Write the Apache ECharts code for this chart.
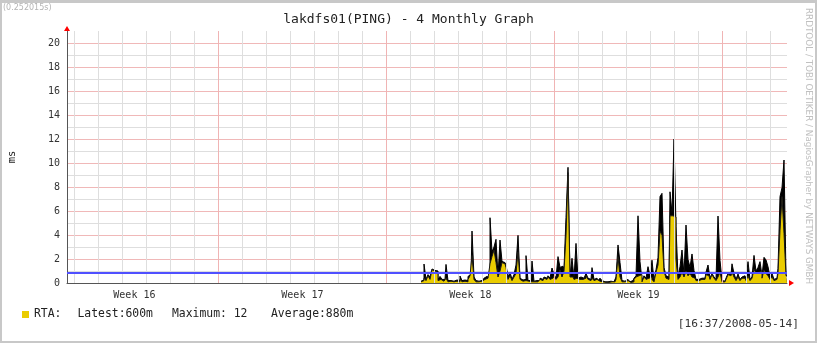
<!DOCTYPE html>
<html><head><meta charset="utf-8">
<script src="https://cdn.jsdelivr.net/npm/echarts@6/dist/echarts.min.js"></script>
<style>html,body{margin:0;padding:0;background:#fff}#c{width:817px;height:343px}</style>
</head><body><div id="c"></div>
<script>
// ---- data ----
const titleText = 'lakdfs01(PING) - 4 Monthly Graph';
const elapsedText = '(0.252015s)';
const stampText = '[16:37/2008-05-14]';
const watermarkText = 'RRDTOOL / TOBI OETIKER / NagiosGrapher by NETWAYS GMBH';
const unitName = 'ms';
const seriesName = 'RTA';
// x axis: hours since 2008-04-14 16:37 (30 days shown)
const xMinHour = 0, xMaxHour = 720;
const weekLabels = ['Week 16', 'Week 17', 'Week 18', 'Week 19'];
const weekLabelHours = [67.4, 235.4, 403.4, 571.4];
const dayLineHours = [7.5,31.5,55.5,79.5,103.5,127.5,175.5,199.5,223.5,247.5,271.5,295.5,343.5,367.5,391.5,415.5,439.5,463.5,511.5,535.5,559.5,583.5,607.5,631.5,679.5,703.5];
const weekLineHours = [151.5, 319.5, 487.5, 655.5];
const yTickValues = [0,2,4,6,8,10,12,14,16,18,20];
// samples every 2 hours starting at hour 354
const sampleStartHour = 354, sampleStepHours = 2;
const rtaAvg = [
 0.1,0.2,0.4,0.2,0.6,0.3,1.1,1.0,0.9,0.2,
 0.3,0.15,0.2,0.4,0.1,0.15,0.1,0.1,0.15,0.1,
 0.3,0.1,0.15,0.1,0.3,0.6,2.3,0.3,0.1,0.1,
 0.15,0.2,0.3,0.4,0.3,1.6,2.2,2.75,1.7,0.5,
 1.0,1.7,1.6,1.3,0.3,0.6,0.2,0.5,0.8,2.6,
 0.3,0.15,0.2,0.3,0.15,0.1,0.2,0.1,0.1,0.15,
 0.3,0.2,0.4,0.3,0.5,0.3,0.4,0.6,0.3,0.5,
 1.1,0.5,1.0,4.0,9.2,0.5,0.5,0.3,0.4,0.3,
 0.4,0.3,0.4,0.6,0.3,0.2,0.4,0.2,0.3,0.15,
 0.3,0.1,0.05,0.05,0.05,0.1,0.05,0.1,0.3,2.2,
 0.5,0.1,0.1,0.2,0.1,0.05,0.1,0.3,0.5,0.6,
 0.7,0.1,0.5,0.3,0.4,0.5,0.3,0.1,0.9,1.5,
 4.3,4.0,1.0,0.4,0.3,5.6,5.6,5.5,2.0,0.3,
 0.5,0.9,0.5,1.0,0.6,0.8,0.5,0.4,0.2,0.2,
 0.3,0.2,0.3,0.7,0.6,0.3,0.7,0.4,0.2,0.5,
 0.9,0.1,0.1,0.3,0.7,0.6,0.9,0.5,0.2,0.5,
 0.2,0.4,0.4,0.2,0.6,0.2,0.4,1.14,0.8,0.9,
 1.0,0.4,1.1,0.8,0.6,0.3,0.5,0.2,0.3,0.8,
 4.4,7.2,4.14,0.6
];
const rtaMax = [
 0.15,0.25,1.58,0.3,0.7,0.5,1.17,1.05,1.0,0.3,
 0.55,0.3,0.3,1.55,0.2,0.2,0.15,0.2,0.25,0.2,
 0.58,0.2,0.25,0.2,0.55,0.7,4.33,0.5,0.2,0.15,
 0.2,0.3,0.4,0.55,0.4,5.44,2.6,3.0,3.64,0.6,
 3.58,1.8,1.7,1.5,0.5,0.9,0.3,0.7,1.5,3.97,
 0.4,0.25,0.3,2.28,0.2,0.2,1.83,0.15,0.2,0.2,
 0.4,0.3,0.5,0.4,0.6,0.4,1.25,0.7,0.4,2.2,
 1.3,1.4,1.2,5.47,9.64,0.6,2.06,0.4,3.3,0.4,
 0.5,0.4,0.5,0.8,0.4,0.3,1.28,0.3,0.4,0.2,
 0.4,0.2,0.1,0.1,0.1,0.15,0.1,0.15,0.5,3.17,
 1.7,0.2,0.15,0.3,0.2,0.1,0.2,0.4,0.6,5.6,
 1.78,0.2,0.6,0.4,1.36,0.6,1.9,0.2,1.1,2.1,
 7.2,7.47,1.3,0.6,0.5,7.6,5.8,12.0,4.7,0.5,
 1.36,2.75,0.7,4.83,1.97,1.3,2.42,1.04,0.3,0.3,
 0.4,0.3,0.4,0.9,1.5,0.4,0.8,0.5,0.3,5.58,
 1.89,0.2,0.15,0.4,0.8,0.7,1.6,0.8,0.3,0.75,
 0.3,0.5,0.6,0.3,1.78,0.3,0.5,2.3,1.0,1.3,
 1.78,0.6,2.14,1.92,1.36,0.5,0.8,0.3,0.4,1.2,
 7.2,7.94,10.25,0.6
];
const rtaLatest = 0.6, rtaMaximum = 12, rtaAverage = 0.88;

// ---- build ----
const mono = 'DejaVu Sans Mono';
const hourOf = i => sampleStartHour + i * sampleStepHours;
const avgData = rtaAvg.map((v, i) => [hourOf(i), v]);
const maxData = rtaMax.map((v, i) => [hourOf(i), v]);
const si = v => v < 1 ? Math.round(v * 1000) + 'm' : String(v);

const chart = echarts.init(document.getElementById('c'), null, {renderer: 'canvas'});
const gridLineSeries = (hours, color) => ({
  type: 'line', data: [], z: 1, silent: true,
  markLine: {silent: true, symbol: ['none', 'none'], animation: false,
    label: {show: false}, emphasis: {disabled: true},
    lineStyle: {type: 'solid', width: 1, color: color},
    data: hours.map(h => ({xAxis: h}))}
});
chart.setOption({
  animation: false,
  backgroundColor: '#ffffff',
  title: {text: titleText, left: 'center', top: 8,
    textStyle: {fontFamily: mono, fontSize: 13, fontWeight: 'normal', color: '#222'}},
  grid: {left: 67, right: 30, top: 31, bottom: 60, containLabel: false, outerBoundsMode: 'none'},
  legend: {
    left: 17, top: 304, itemWidth: 7, itemHeight: 7, selectedMode: false,
    data: [{name: seriesName, icon: 'rect', itemStyle: {color: '#EACC00', borderWidth: 0}}],
    formatter: name => '{a|' + name + ':}{b|Latest:' + si(rtaLatest) + '}{c|Maximum: ' + si(rtaMaximum) + '}{d|Average:' + si(rtaAverage) + '}',
    textStyle: {fontFamily: mono, fontSize: 11.4, color: '#222',
      rich: {a: {width: 43.5, fontFamily: mono, fontSize: 11.4, color: '#222'},
             b: {width: 94.5, fontFamily: mono, fontSize: 11.4, color: '#222'},
             c: {width: 99, fontFamily: mono, fontSize: 11.4, color: '#222'},
             d: {fontFamily: mono, fontSize: 11.4, color: '#222'}}}
  },
  xAxis: [{
    type: 'value', min: xMinHour, max: xMaxHour,
    axisLine: {show: true, onZero: false, lineStyle: {color: '#555', width: 1}},
    axisTick: {show: false},
    splitLine: {show: false},
    axisLabel: {customValues: weekLabelHours, margin: 7,
      formatter: v => weekLabels[weekLabelHours.indexOf(v)] || '',
      fontFamily: mono, fontSize: 10, color: '#333'}
  }, {
    type: 'value', min: xMinHour, max: xMaxHour, position: 'bottom',
    axisLine: {show: true, onZero: false, symbol: ['none', 'triangle'], symbolSize: [6, 5], symbolOffset: [0, 4.5],
      lineStyle: {color: '#ff0000', width: 0}},
    axisTick: {show: false}, axisLabel: {show: false}, splitLine: {show: false}
  }],
  yAxis: [{
    type: 'value', min: 0, max: 21, interval: 1,
    name: unitName, nameLocation: 'middle', nameGap: 49, nameRotate: 90,
    nameTextStyle: {fontFamily: mono, fontSize: 10.5, color: '#222'},
    axisLine: {show: true, lineStyle: {color: '#555', width: 1}},
    axisTick: {show: false},
    axisLabel: {margin: 7, fontFamily: mono, fontSize: 10, color: '#333',
      formatter: v => yTickValues.indexOf(v) >= 0 ? String(v) : ''},
    splitLine: {show: true, showMaxLine: false, lineStyle: {color: ['#f0b8b8', '#dedede'], width: 1}}
  }, {
    type: 'value', min: 0, max: 21, position: 'left',
    axisLine: {show: true, symbol: ['none', 'triangle'], symbolSize: [6, 5], symbolOffset: [0, 2.5],
      lineStyle: {color: '#ff0000', width: 0}},
    axisTick: {show: false}, axisLabel: {show: false}, splitLine: {show: false}
  }],
  graphic: [
    {type: 'rect', shape: {x: 0, y: 0, width: 817, height: 3}, style: {fill: '#c8c8c8'}, silent: true},
    {type: 'rect', shape: {x: 0, y: 0, width: 2, height: 343}, style: {fill: '#c8c8c8'}, silent: true},
    {type: 'rect', shape: {x: 815, y: 0, width: 2, height: 343}, style: {fill: '#c8c8c8'}, silent: true},
    {type: 'rect', shape: {x: 0, y: 341, width: 817, height: 2}, style: {fill: '#c8c8c8'}, silent: true},
    {type: 'text', x: 3, y: 4, silent: true,
      style: {text: elapsedText, fontFamily: 'DejaVu Sans', fontSize: 8, fill: '#b4b4b4'}},
    {type: 'text', x: 799, y: 324, silent: true,
      style: {text: stampText, fontFamily: mono, fontSize: 11.2, fill: '#333', align: 'right', verticalAlign: 'middle'}},
    {type: 'text', x: 808, y: 8, rotation: -Math.PI / 2, silent: true,
      style: {text: watermarkText, fontFamily: 'DejaVu Sans', fontSize: 8.8, fill: '#c0c0c0', align: 'left', verticalAlign: 'middle'}}
  ],
  series: [
    gridLineSeries(dayLineHours, '#dedede'),
    gridLineSeries(weekLineHours, '#f0b4b4'),
    {name: 'RTA max', type: 'line', step: 'middle', symbol: 'none', z: 2, silent: true,
     data: maxData, lineStyle: {color: '#000', width: 1}, areaStyle: {color: '#000', opacity: 1}},
    {name: seriesName, type: 'line', step: 'middle', symbol: 'none', z: 3, silent: true,
     data: avgData, itemStyle: {color: '#EACC00'},
     lineStyle: {color: '#1a1a1a', width: 1}, areaStyle: {color: '#EACC00', opacity: 1}},
    {type: 'line', data: [], z: 4, silent: true,
     markLine: {silent: true, symbol: ['none', 'none'], animation: false, label: {show: false},
       emphasis: {disabled: true},
       lineStyle: {type: 'solid', width: 2, color: '#5050ff'}, data: [{yAxis: rtaAverage}]}}
  ]
});
</script></body></html>
